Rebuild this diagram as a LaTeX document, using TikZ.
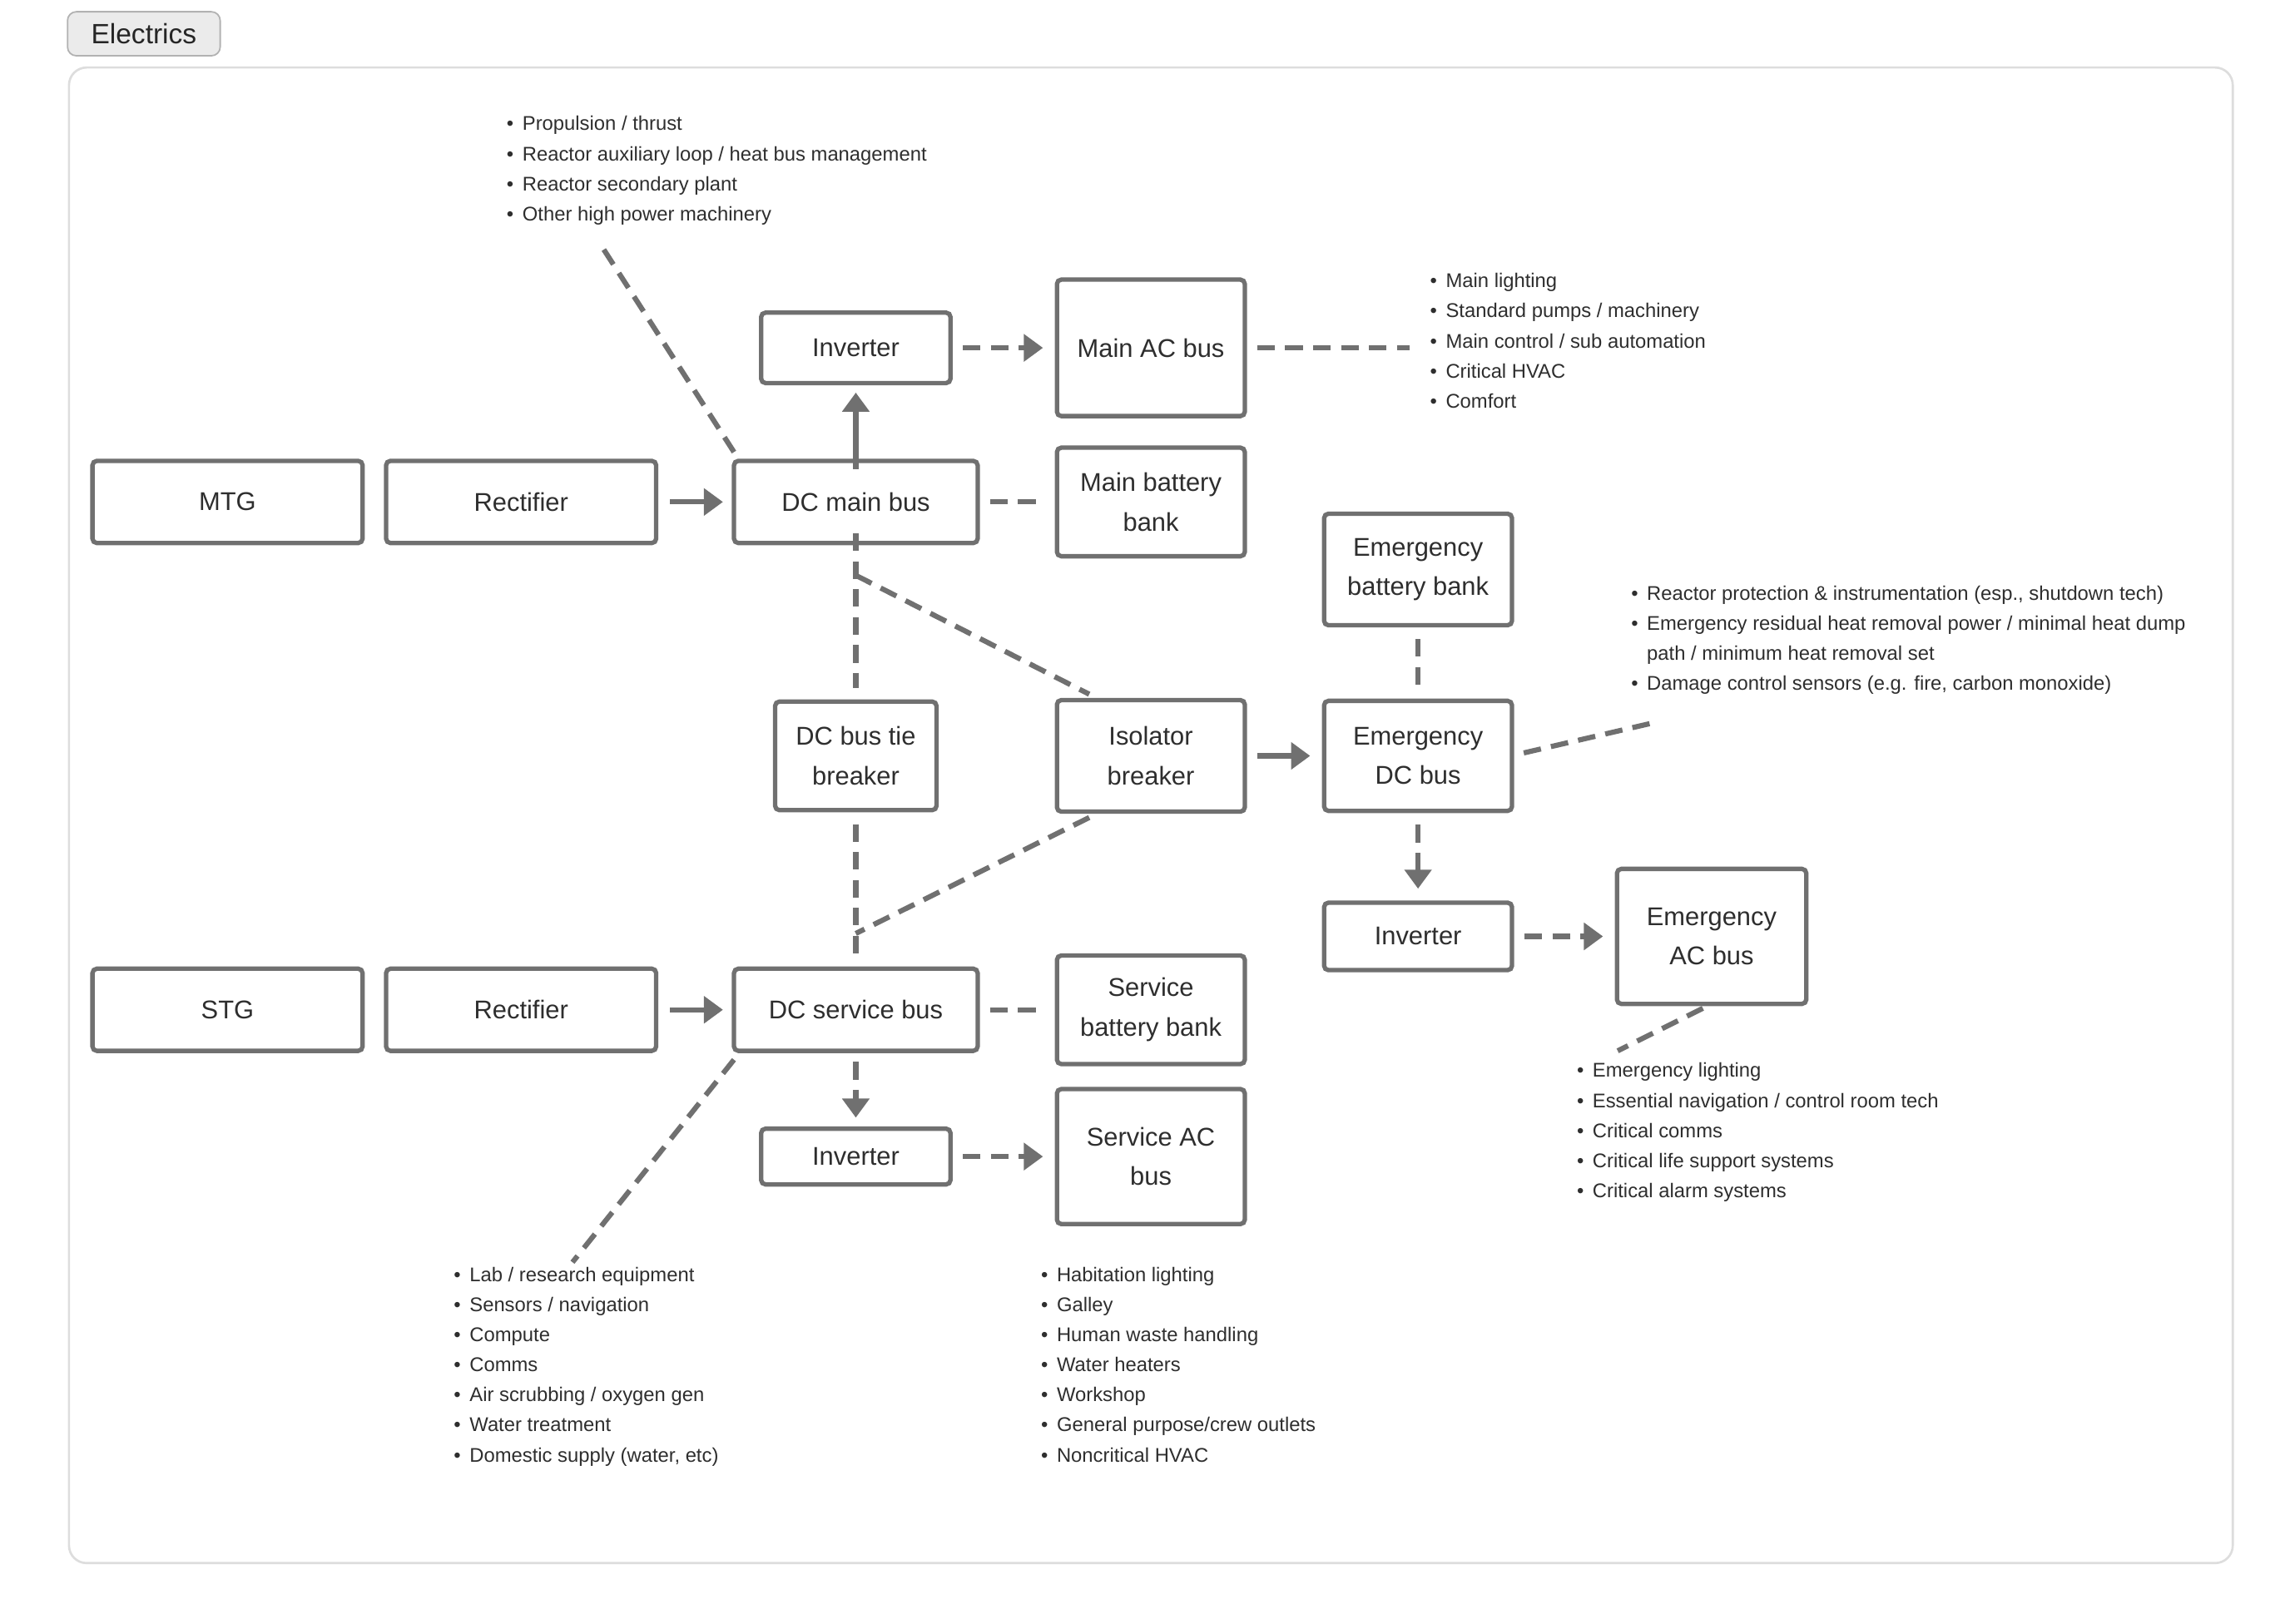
\documentclass[tikz,border=0pt]{standalone}
\usepackage{fontspec}
\setmainfont{Liberation Sans}
\usetikzlibrary{arrows.meta}
\definecolor{ln}{HTML}{707070}
\definecolor{tx}{HTML}{2E2E2E}
\definecolor{fr}{HTML}{DDDDDD}
\begin{document}
\begin{tikzpicture}[x=1pt,y=-1pt,
  box/.style={draw=ln,line width=3pt,rounded corners=3pt,fill=white,text=tx,font=\fontsize{17.5}{27}\selectfont,align=center,inner sep=0pt},
  con/.style={draw=ln,line width=3.5pt},
  dsh/.style={con,dash pattern=on 12pt off 7pt},
  arr/.style={-{Triangle[length=13pt,width=18pt]}},
  lst/.style={anchor=north west,align=left,inner sep=0pt,text=tx,font=\fontsize{13.5}{20.5}\selectfont}]
\useasboundingbox (0,0) rectangle (1560,1106.5);
\fill[white] (0,0) rectangle (1560,1106.5);
\draw[fr,line width=1.5pt,rounded corners=12pt] (47,46) rectangle (1521,1065);
\node[draw=black!30,fill=black!8,rounded corners=6pt,line width=1pt,minimum width=104pt,minimum height=30pt,inner sep=0pt,font=\fontsize{19}{22}\selectfont,text=black!85] (tag) at (98,23) {Electrics};
% boxes
\node[box,minimum width=184pt,minimum height=56pt] (mtg) at (155,342) {MTG};
\node[box,minimum width=184pt,minimum height=56pt] (rec1) at (355,342) {Rectifier};
\node[box,minimum width=166pt,minimum height=56pt] (dcm) at (583,342) {DC main bus};
\node[box,minimum width=129pt,minimum height=48pt] (inv1) at (583,237) {Inverter};
\node[box,minimum width=128pt,minimum height=93pt] (mac) at (784,237) {Main AC bus};
\node[box,minimum width=128pt,minimum height=74pt] (mbb) at (784,342) {Main battery\\bank};
\node[box,minimum width=110pt,minimum height=74pt] (tie) at (583,515) {DC bus tie\\breaker};
\node[box,minimum width=128pt,minimum height=76pt] (iso) at (784,515) {Isolator\\breaker};
\node[box,minimum width=128pt,minimum height=76pt] (ebb) at (966,388) {Emergency\\battery bank};
\node[box,minimum width=128pt,minimum height=75pt] (edc) at (966,515) {Emergency\\DC bus};
\node[box,minimum width=128pt,minimum height=46pt] (inv3) at (966,638) {Inverter};
\node[box,minimum width=129pt,minimum height=92pt] (eac) at (1166,638) {Emergency\\AC bus};
\node[box,minimum width=184pt,minimum height=56pt] (stg) at (155,688) {STG};
\node[box,minimum width=184pt,minimum height=56pt] (rec2) at (355,688) {Rectifier};
\node[box,minimum width=166pt,minimum height=56pt] (dcs) at (583,688) {DC service bus};
\node[box,minimum width=128pt,minimum height=74pt] (sbb) at (784,688) {Service\\battery bank};
\node[box,minimum width=129pt,minimum height=38pt] (inv2) at (583,788) {Inverter};
\node[box,minimum width=128pt,minimum height=92pt] (sac) at (784,788) {Service AC\\bus};
% lists
\node[lst] (l1) at (345,79) {\textbullet\hspace{6pt}Propulsion / thrust\\\textbullet\hspace{6pt}Reactor auxiliary loop / heat bus management\\\textbullet\hspace{6pt}Reactor secondary plant\\\textbullet\hspace{6pt}Other high power machinery};
\node[lst] (l2) at (974,186) {\textbullet\hspace{6pt}Main lighting\\\textbullet\hspace{6pt}Standard pumps / machinery\\\textbullet\hspace{6pt}Main control / sub automation\\\textbullet\hspace{6pt}Critical HVAC\\\textbullet\hspace{6pt}Comfort};
\node[lst] (l3) at (1111,399) {\textbullet\hspace{6pt}Reactor protection \& instrumentation (esp., shutdown tech)\\\textbullet\hspace{6pt}Emergency residual heat removal power / minimal heat dump\\\phantom{\textbullet}\hspace{6pt}path / minimum heat removal set\\\textbullet\hspace{6pt}Damage control sensors (e.g. fire, carbon monoxide)};
\node[lst] (l4) at (1074,724) {\textbullet\hspace{6pt}Emergency lighting\\\textbullet\hspace{6pt}Essential navigation / control room tech\\\textbullet\hspace{6pt}Critical comms\\\textbullet\hspace{6pt}Critical life support systems\\\textbullet\hspace{6pt}Critical alarm systems};
\node[lst] (l5) at (309,863) {\textbullet\hspace{6pt}Lab / research equipment\\\textbullet\hspace{6pt}Sensors / navigation\\\textbullet\hspace{6pt}Compute\\\textbullet\hspace{6pt}Comms\\\textbullet\hspace{6pt}Air scrubbing / oxygen gen\\\textbullet\hspace{6pt}Water treatment\\\textbullet\hspace{6pt}Domestic supply (water, etc)};
\node[lst] (l6) at (709,863) {\textbullet\hspace{6pt}Habitation lighting\\\textbullet\hspace{6pt}Galley\\\textbullet\hspace{6pt}Human waste handling\\\textbullet\hspace{6pt}Water heaters\\\textbullet\hspace{6pt}Workshop\\\textbullet\hspace{6pt}General purpose/crew outlets\\\textbullet\hspace{6pt}Noncritical HVAC};
% helper coordinates
\coordinate (l1e) at (410,168);
\coordinate (l2e) at (960,237);
\coordinate (l3e) at (1124,493);
\coordinate (l4e) at (1102,716);
\coordinate (l5e) at (390,860);
\coordinate (dcmb) at (583,392);
\coordinate (dcst) at (583,636);
% connectors
\draw[con,arr] ([xshift=8pt]rec1.east) -- ([xshift=-6pt]dcm.west);
\draw[con,arr] ([yshift=-7pt]dcm.north) -- ([yshift=-5pt]inv1.south);
\draw[dsh,arr] ([xshift=7pt]inv1.east) -- ([xshift=-8pt]mac.west);
\draw[dsh] ([xshift=7pt]mac.east) -- (l2e);
\draw[dsh] ([xshift=7pt]dcm.east) -- ([xshift=-8pt]mbb.west);
\draw[dsh] (500,308) -- (l1e);
\draw[dsh] ([yshift=8pt]dcm.south) -- ([yshift=8pt]tie.north);
\draw[dsh] (dcmb) -- (742,473);
\draw[dsh] ([yshift=-8pt]tie.south) -- (583,652);
\draw[dsh] (742,557) -- (dcst);
\draw[con,arr] ([xshift=7pt]iso.east) -- ([xshift=-8pt]edc.west);
\draw[dsh] ([yshift=-8pt]ebb.south) -- ([yshift=8pt]edc.north);
\draw[dsh,arr] ([yshift=-8pt]edc.south) -- ([yshift=8pt]inv3.north);
\draw[dsh,arr] ([xshift=7pt]inv3.east) -- ([xshift=-8pt]eac.west);
\draw[dsh] (1038,513) -- (l3e);
\draw[dsh] (1160,687) -- (l4e);
\draw[con,arr] ([xshift=8pt]rec2.east) -- ([xshift=-6pt]dcs.west);
\draw[dsh] ([xshift=7pt]dcs.east) -- ([xshift=-8pt]sbb.west);
\draw[dsh,arr] ([yshift=-6pt]dcs.south) -- ([yshift=6pt]inv2.north);
\draw[dsh,arr] ([xshift=7pt]inv2.east) -- ([xshift=-8pt]sac.west);
\draw[dsh] (500,722) -- (l5e);
\end{tikzpicture}
\end{document}
